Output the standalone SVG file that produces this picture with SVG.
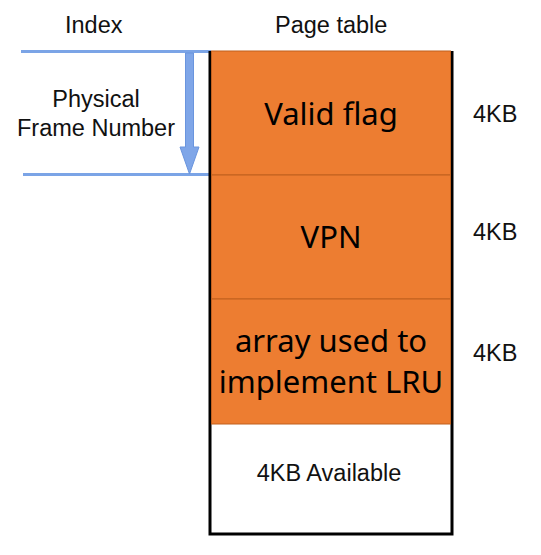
<svg xmlns="http://www.w3.org/2000/svg" width="541" height="555" viewBox="0 0 541 555">
<style>
.lbl{font-family:"Liberation Sans",Arial,sans-serif;font-size:23.5px;fill:#111}
.big{font-family:"Noto Sans","DejaVu Sans",sans-serif;font-size:31px;fill:#000;text-anchor:middle}
.cell{fill:#ED7D31;stroke:#C0601E;stroke-width:1}
.blue{stroke:#7BA4E6;stroke-width:3;fill:none}
</style>
<rect width="541" height="555" fill="#fff"/>
<text class="lbl" x="65" y="33">Index</text>
<text class="lbl" x="275" y="33">Page table</text>
<g id="pfn-label">
<text class="lbl" x="96" y="107" text-anchor="middle">Physical</text>
<text class="lbl" x="96" y="136" text-anchor="middle">Frame Number</text>
</g>
<g id="connectors">
<line class="blue" x1="21" y1="51.5" x2="211" y2="51.5"/>
<line class="blue" x1="23" y1="174.5" x2="211" y2="174.5"/>
<path d="M185.5,53 L193.5,53 L193.5,147 L199,147 L189.5,174 L180,147 L185.5,147 Z" fill="#7FA6E8" stroke="#6A95DE" stroke-width="1"/>
</g>
<g id="page-table">
<path d="M210,51 L210,534 L452,534 L452,51" fill="#fff" stroke="#000" stroke-width="3"/>
<g id="valid-flag">
<rect class="cell" x="211.5" y="51" width="239" height="124"/>
<text class="big" x="331" y="125">Valid flag</text>
</g>
<g id="vpn">
<rect class="cell" x="211.5" y="175" width="239" height="124"/>
<text class="big" x="331" y="248">VPN</text>
</g>
<g id="lru-array">
<rect class="cell" x="211.5" y="299" width="239" height="125"/>
<text class="big" x="331" y="352">array used to</text>
<text class="big" x="331" y="393">implement LRU</text>
</g>
<g id="available">
<text class="lbl" x="329" y="481" text-anchor="middle">4KB Available</text>
</g>
</g>
<g id="sizes">
<text class="lbl" x="473" y="122">4KB</text>
<text class="lbl" x="473" y="240">4KB</text>
<text class="lbl" x="473" y="361">4KB</text>
</g>
</svg>
